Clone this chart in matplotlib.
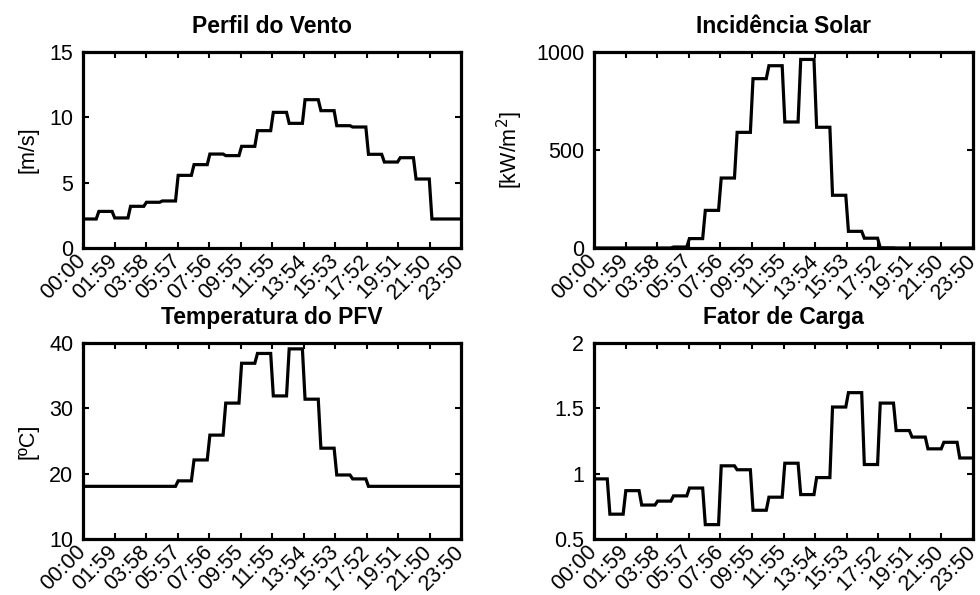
import numpy as np
import matplotlib
matplotlib.use("Agg")
import matplotlib.pyplot as plt

plt.rcParams['font.family'] = ['Liberation Sans', 'DejaVu Sans']

# hourly values (each held for the hour, sampled every 10 min)
wind = [2.22, 2.8, 2.3, 3.19, 3.5, 3.6, 5.56, 6.38, 7.19, 7.07, 7.78, 8.98,
        10.38, 9.54, 11.35, 10.51, 9.36, 9.26, 7.17, 6.58, 6.91, 5.28, 2.22, 2.22]
solar = [0, 0, 0, 0, 0, 5, 48, 192, 357, 590, 864, 930,
         643, 962, 616, 269, 85, 50, 1, 0, 0, 0, 0, 0]
temp = [18.06, 18.06, 18.06, 18.06, 18.06, 18.06, 18.9, 22.1, 25.9, 30.8, 36.9, 38.4,
        31.9, 39.1, 31.4, 23.9, 19.8, 19.2, 18.06, 18.06, 18.06, 18.06, 18.06, 18.06]
load = [0.96, 0.69, 0.87, 0.76, 0.79, 0.83, 0.89, 0.61, 1.06, 1.03, 0.72, 0.82,
        1.08, 0.84, 0.97, 1.51, 1.62, 1.07, 1.54, 1.33, 1.28, 1.19, 1.24, 1.12]

samples_per_hour = 6
step_min = 10
tick_labels = ['00:00', '01:59', '03:58', '05:57', '07:56', '09:55', '11:55',
               '13:54', '15:53', '17:52', '19:51', '21:50', '23:50']

titles = ['Perfil do Vento', 'Incidência Solar', 'Temperatura do PFV', 'Fator de Carga']
ylabels = ['[m/s]', '[kW/m$^2$]', '[ºC]', '']
ylims = [(0, 15), (0, 1000), (10, 40), (0.5, 2)]
yticks = [[0, 5, 10, 15], [0, 500, 1000], [10, 20, 30, 40], [0.5, 1, 1.5, 2]]
ytick_labels = [['0', '5', '10', '15'], ['0', '500', '1000'], ['10', '20', '30', '40'],
                ['0.5', '1', '1.5', '2']]
series = [wind, solar, temp, load]

W, H = 980, 595
fig = plt.figure(figsize=(W / 100, H / 100), dpi=100)
boxes = [(83, 52, 461, 248), (594, 52, 973, 248), (83, 343, 461, 539), (594, 343, 973, 539)]

n = 24 * samples_per_hour
t = np.arange(n) * step_min
xt = np.linspace(0, t[-1], len(tick_labels))

fs = 15.5
for i in range(4):
    x0, y0, x1, y1 = boxes[i]
    ax = fig.add_axes([x0 / W, 1 - y1 / H, (x1 - x0) / W, (y1 - y0) / H])
    y = np.repeat(np.array(series[i], dtype=float), samples_per_hour)
    ax.plot(t, y, color='black', lw=2.3, solid_joinstyle='miter')
    ax.set_xlim(0, t[-1])
    ax.set_ylim(*ylims[i])
    ax.set_xticks(xt)
    ax.set_xticklabels(tick_labels, rotation=45, ha='right', va='center',
                       rotation_mode='anchor', fontsize=fs)
    ax.set_yticks(yticks[i])
    ax.set_yticklabels(ytick_labels[i], fontsize=fs)
    ax.tick_params(direction='in', top=True, right=True, length=4, width=1.5)
    ax.tick_params(axis='x', pad=7)
    ax.tick_params(axis='y', pad=7)
    for sp in ax.spines.values():
        sp.set_linewidth(2.3)
    ax.set_title(titles[i], fontsize=16.5, fontweight='bold', pad=14)
    if ylabels[i]:
        ax.set_ylabel(ylabels[i], fontsize=fs, labelpad=8)

fig.savefig('out.png', dpi=100)
